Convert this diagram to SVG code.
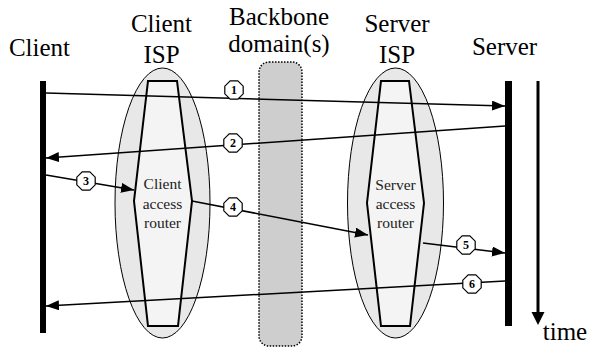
<svg xmlns="http://www.w3.org/2000/svg" width="589" height="348" viewBox="0 0 589 348">
<defs>
<style>
.t{font-family:"Liberation Serif","Times New Roman",serif;font-size:25px;fill:#000;text-anchor:middle}
.r{font-family:"Liberation Serif","Times New Roman",serif;font-size:15.5px;fill:#222;text-anchor:middle}
.n{font-family:"Liberation Serif","Times New Roman",serif;font-size:12px;font-weight:bold;fill:#000;text-anchor:middle}
.isp{fill:#e8e8e8;stroke:#000;stroke-width:1}
.hex{fill:#f4f4f4;stroke:#000;stroke-width:2}
.bar{fill:#000}
.msg{stroke:#000;stroke-width:1.5;fill:none;marker-end:url(#ah)}
.oct{fill:#fff;stroke:#000;stroke-width:1.2}
</style>
<marker id="ah" markerUnits="userSpaceOnUse" markerWidth="14" markerHeight="12" refX="13" refY="5" orient="auto">
<path d="M0,0 L13,5 L0,10 Z" fill="#000"/>
</marker>
<polygon id="oct" points="3.8,-9.2 -3.8,-9.2 -9.2,-3.8 -9.2,3.8 -3.8,9.2 3.8,9.2 9.2,3.8 9.2,-3.8"/>
</defs>
<rect width="589" height="348" fill="#fff"/>

<g id="backbone">
<rect x="259" y="62" width="43" height="284" rx="10" ry="10" fill="#cecece" stroke="#000" stroke-width="1.5" stroke-dasharray="1.5,1.5"/>
<text class="t" x="279" y="25">Backbone</text>
<text class="t" x="279" y="52">domain(s)</text>
</g>

<g id="client-isp">
<ellipse class="isp" cx="162.5" cy="203" rx="47.5" ry="135"/>
<text class="t" x="161.5" y="32">Client</text>
<text class="t" x="161.5" y="63">ISP</text>
</g>
<g id="client-router">
<polygon class="hex" points="148,81 177,81 192,201 178,326 148,326 134,201"/>
<text class="r" x="162.5" y="189">Client</text>
<text class="r" x="162.5" y="209">access</text>
<text class="r" x="162.5" y="228">router</text>
</g>

<g id="server-isp">
<ellipse class="isp" cx="395.5" cy="203" rx="48" ry="135"/>
<text class="t" x="397" y="32">Server</text>
<text class="t" x="397" y="63">ISP</text>
</g>
<g id="server-router">
<polygon class="hex" points="381,81 409,81 424,203 410,326 381,326 367,203"/>
<text class="r" x="395.5" y="190">Server</text>
<text class="r" x="395.5" y="209">access</text>
<text class="r" x="395.5" y="228">router</text>
</g>

<g id="client">
<rect class="bar" x="40" y="81" width="6" height="252"/>
<text class="t" x="39.5" y="56">Client</text>
</g>

<g id="server">
<rect class="bar" x="505" y="81" width="7" height="245"/>
<text class="t" x="504.5" y="55">Server</text>
</g>

<g id="time">
<line x1="538" y1="81" x2="538" y2="314" stroke="#000" stroke-width="3"/>
<path d="M531.5,312 L544.5,312 L538,325 Z" fill="#000"/>
<text class="t" x="565" y="340">time</text>
</g>

<g id="connectors">
<line class="msg" x1="46" y1="93" x2="505" y2="106"/>
<line class="msg" x1="505" y1="126" x2="46" y2="158"/>
<line class="msg" x1="46" y1="175" x2="134" y2="190"/>
<line class="msg" x1="192" y1="201" x2="368" y2="235"/>
<line class="msg" x1="423" y1="243" x2="505" y2="253"/>
<line class="msg" x1="505" y1="281" x2="46" y2="306"/>
</g>

<g id="labels">
<use href="#oct" class="oct" x="234" y="90"/>
<text class="n" x="234" y="94">1</text>
<use href="#oct" class="oct" x="233" y="143"/>
<text class="n" x="233" y="147">2</text>
<use href="#oct" class="oct" x="86" y="181"/>
<text class="n" x="86" y="185">3</text>
<use href="#oct" class="oct" x="233" y="207"/>
<text class="n" x="233" y="211">4</text>
<use href="#oct" class="oct" x="466" y="245"/>
<text class="n" x="466" y="249">5</text>
<use href="#oct" class="oct" x="472" y="284"/>
<text class="n" x="472" y="288">6</text>
</g>
</svg>
